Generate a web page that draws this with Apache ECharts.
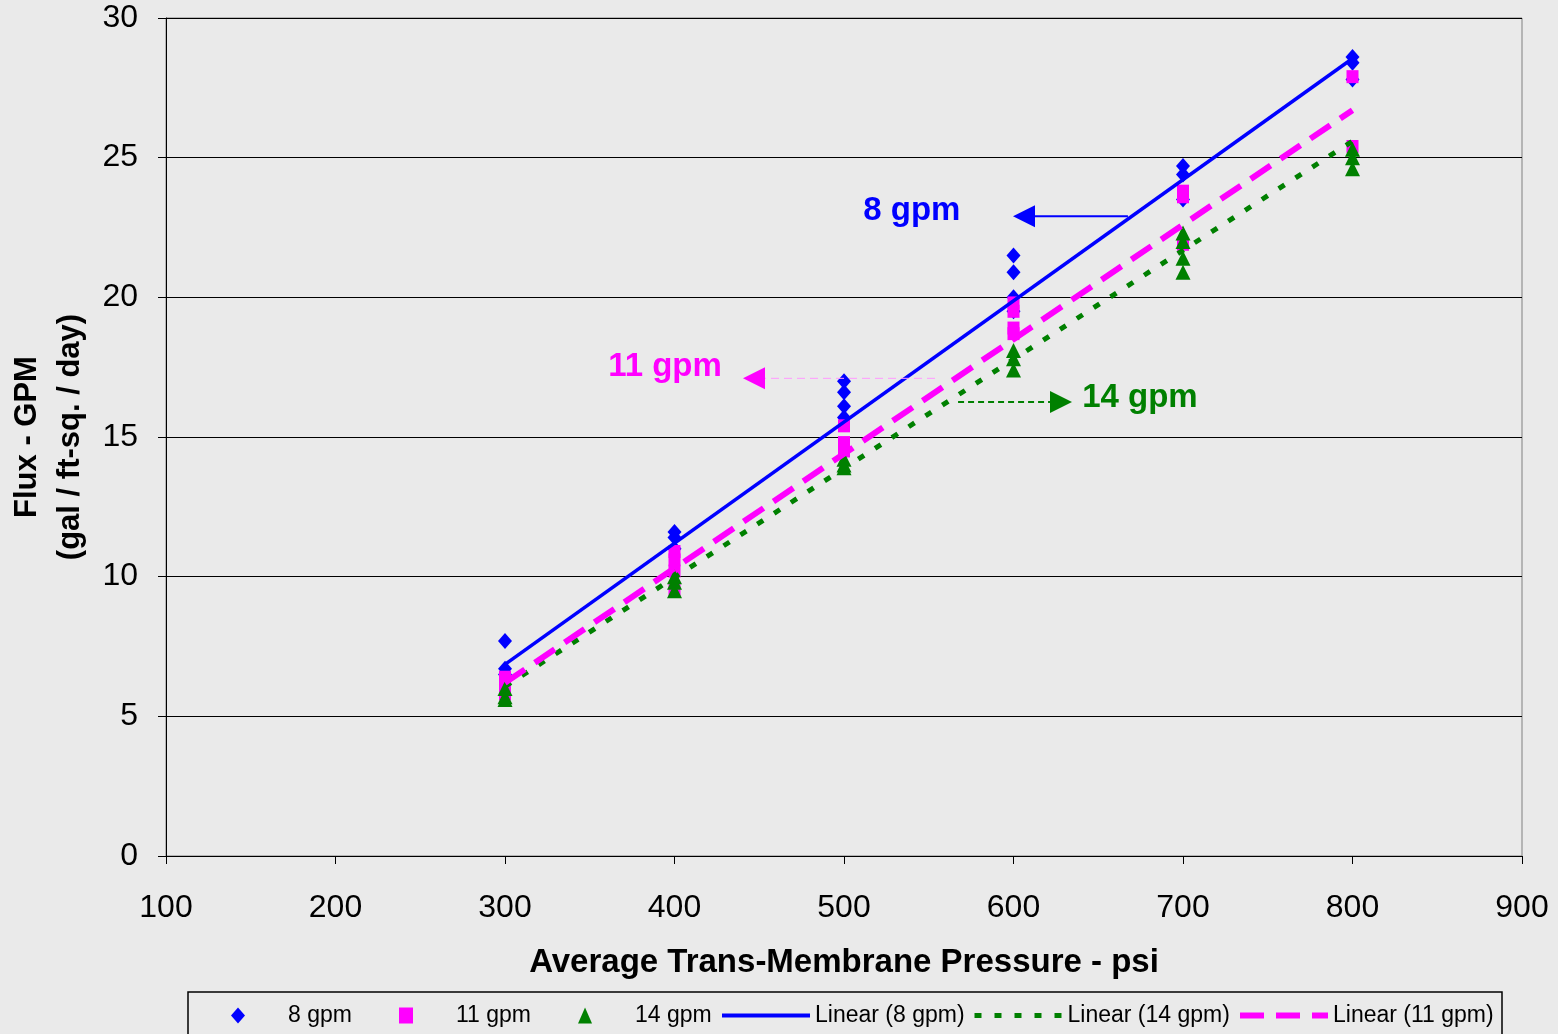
<!DOCTYPE html>
<html><head><meta charset="utf-8">
<script src="https://cdn.jsdelivr.net/npm/echarts@6/dist/echarts.min.js"></script>
<style>html,body{margin:0;padding:0;background:#EAEAEA;}#c{width:1558px;height:1034px;}</style>
</head><body><div id="c"></div>
<script>
var pressures = [300, 400, 500, 600, 700, 800];
var flux8 = [[7.7, 6.7, 6.5], [11.6, 11.4, 11.0], [17.0, 16.6, 16.1, 15.7], [21.5, 20.9, 20.0, 19.5], [24.7, 24.4, 23.5], [28.6, 28.4, 27.8]];
var flux11 = [[6.4, 6.1, 5.8], [10.9, 10.6, 10.2, 9.5], [15.4, 14.8, 14.5], [19.8, 19.5, 18.9, 18.7], [23.8, 23.6, 21.9], [27.9, 25.4]];
var flux14 = [[6.0, 5.7, 5.6], [10.0, 9.8, 9.5], [14.2, 14.0, 13.9], [18.1, 17.8, 17.4], [22.3, 22.0, 21.4, 20.9], [25.3, 25.0, 24.6]];
var trendX = [300, 800];
var trend8 = [6.86, 28.55];
var trend11 = [6.2, 26.7];
var trend14 = [6.07, 25.59];
var xTicks = [100, 200, 300, 400, 500, 600, 700, 800, 900];
var yTicks = [0, 5, 10, 15, 20, 25, 30];
var seriesNames = ['8 gpm', '11 gpm', '14 gpm', 'Linear (8 gpm)', 'Linear (14 gpm)', 'Linear (11 gpm)'];
// annotations: [label, textX, textY, arrowFromX, arrowToX, arrowY]
var notes = [
  ['8 gpm', 540, 23.1, 667.5, 599.7, 22.9],
  ['11 gpm', 394.4, 17.5, 553.7, 440.4, 17.1],
  ['14 gpm', 674.6, 16.4, 567.3, 634.5, 16.25]
];

function pts(arr) {
  var out = [];
  arr.forEach(function (vals, i) { vals.forEach(function (v) { out.push([pressures[i], v]); }); });
  return out;
}
function line(ys) { return trendX.map(function (x, i) { return [x, ys[i]]; }); }

var FONT = 'Liberation Sans, Arial, sans-serif';
var BLUE = '#0000FF', MAG = '#FF00FF', GREEN = '#008000';
var lineW = [4, 5, 6];

// legend layout (one legend per entry, Excel-style spacing)
var legendLeft = [231, 399, 578, 720, 972, 1237];
var legends = seriesNames.map(function (n, i) {
  var isLine = i >= 3;
  return {
    left: legendLeft[i], top: 1004, padding: 0,
    data: [isLine ? { name: n, itemStyle: { opacity: 0 } } : n],
    itemWidth: isLine ? 88 : 14, itemHeight: 16,
    lineStyle: isLine ? { width: lineW[i - 3] } : undefined,
    textStyle: { fontFamily: FONT, fontSize: 23, color: '#000', padding: isLine ? 0 : [0, 0, 0, 38] },
    selectedMode: false
  };
});

var chart = echarts.init(document.getElementById('c'));
var option = {
  backgroundColor: '#EAEAEA',
  animation: false,
  textStyle: { fontFamily: FONT },
  grid: { left: 166, right: 36, top: 18, bottom: 178, outerBoundsMode: 'none', containLabel: false, show: true, borderColor: '#808080', borderWidth: 1, backgroundColor: '#EAEAEA' },
  xAxis: {
    type: 'value', min: xTicks[0], max: xTicks[xTicks.length - 1], interval: 100,
    name: 'Average Trans-Membrane Pressure - psi', nameLocation: 'middle', nameGap: 90,
    nameTextStyle: { fontFamily: FONT, fontSize: 33, fontWeight: 'bold', color: '#000' },
    axisLine: { show: true, lineStyle: { color: '#000', width: 1 } },
    axisTick: { show: true, length: 8, lineStyle: { color: '#000' } },
    axisLabel: { fontFamily: FONT, fontSize: 32, color: '#000', margin: 36 },
    splitLine: { show: false }
  },
  yAxis: {
    type: 'value', min: yTicks[0], max: yTicks[yTicks.length - 1], interval: 5,
    name: 'Flux - GPM\n(gal / ft-sq. / day)', nameLocation: 'middle', nameGap: 73,
    nameTextStyle: { fontFamily: FONT, fontSize: 31, fontWeight: 'bold', color: '#000', lineHeight: 43 },
    axisLine: { show: true, lineStyle: { color: '#000', width: 1 } },
    axisTick: { show: true, length: 8, lineStyle: { color: '#000' } },
    axisLabel: { fontFamily: FONT, fontSize: 32, color: '#000', margin: 28 },
    splitLine: { show: true, lineStyle: { color: '#000', width: 1 } }
  },
  legend: legends,
  series: [
    { name: seriesNames[0], type: 'scatter', data: pts(flux8), symbol: 'diamond', symbolSize: [14, 16], itemStyle: { color: BLUE, opacity: 1 }, z: 3 },
    { name: seriesNames[1], type: 'scatter', data: pts(flux11), symbol: 'rect', symbolSize: [12, 13], itemStyle: { color: MAG, opacity: 1 }, z: 3 },
    { name: seriesNames[2], type: 'scatter', data: pts(flux14), symbol: 'triangle', symbolSize: [15, 15], itemStyle: { color: GREEN, opacity: 1 }, z: 3 },
    { name: seriesNames[3], type: 'line', data: line(trend8), showSymbol: false, symbol: 'none', lineStyle: { color: BLUE, width: 3.5, type: 'solid' }, itemStyle: { color: BLUE }, z: 5 },
    { name: seriesNames[4], type: 'line', data: line(trend14), showSymbol: false, symbol: 'none', lineStyle: { color: GREEN, width: 5, type: [7, 13] }, itemStyle: { color: GREEN }, z: 5 },
    { name: seriesNames[5], type: 'line', data: line(trend11), showSymbol: false, symbol: 'none', lineStyle: { color: MAG, width: 6, type: [24, 12] }, itemStyle: { color: MAG }, z: 5 }
  ]
};
chart.setOption(option);

function px(x, y) { return chart.convertToPixel({ gridIndex: 0 }, [x, y]); }
var colors = [BLUE, MAG, GREEN];
var shaftStyle = [
  { stroke: BLUE, lineWidth: 2 },
  { stroke: '#FF99FF', lineWidth: 1, lineDash: [8, 5] },
  { stroke: GREEN, lineWidth: 2, lineDash: [6, 4] }
];
var g = [
  { type: 'rect', z: 1, shape: { x: 188, y: 992, width: 1314, height: 60 }, style: { fill: 'none', stroke: '#000', lineWidth: 1.5 } }
];
notes.forEach(function (n, i) {
  var t = px(n[1], n[2]);
  g.push({ type: 'text', x: t[0], y: t[1], z: 20, style: { text: n[0], fill: colors[i], font: 'bold 33px ' + FONT, textAlign: 'center', textVerticalAlign: 'middle' } });
  var a = px(n[3], n[5]), b = px(n[4], n[5]);
  var dir = b[0] > a[0] ? 1 : -1;
  var baseX = b[0] - dir * 22;
  g.push({ type: 'line', z: 20, shape: { x1: a[0], y1: a[1], x2: baseX, y2: b[1] }, style: shaftStyle[i] });
  g.push({ type: 'polygon', z: 20, shape: { points: [[b[0], b[1]], [baseX, b[1] - 11], [baseX, b[1] + 11]] }, style: { fill: colors[i] } });
});
chart.setOption({ graphic: g });
</script></body></html>
